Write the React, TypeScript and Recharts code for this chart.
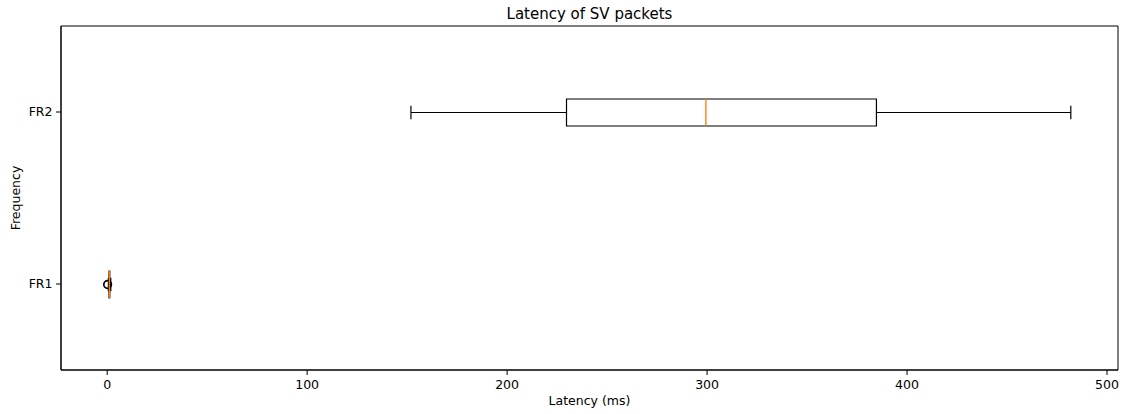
import React from "react";
import { ComposedChart, Bar, XAxis, YAxis, ReferenceArea } from "recharts";

// box statistics per group (ms), FR2 drawn on top
const categories = ["FR2", "FR1"];
const whiskerLow = [151.9, 0.6];
const q1 = [229.7, 0.9];
const median = [299.4, 1.1];
const q3 = [384.7, 1.3];
const whiskerHigh = [481.9, 1.8];
const fliers: number[][] = [[], [0.2]];

const xTicks = [0, 100, 200, 300, 400, 500];
const xDomain: [number, number] = [-23.1, 505.5];

const FONT = "'DejaVu Sans', sans-serif";
const BOX_COLOR = "#000000";
const MEDIAN_COLOR = "#ff7f0e";
const LW = 1.2;

const rows = categories.map((name, i) => ({
  name,
  min: whiskerLow[i],
  fliers: fliers[i],
  base: whiskerLow[i],
  lowW: q1[i] - whiskerLow[i],
  boxL: median[i] - q1[i],
  boxH: q3[i] - median[i],
  highW: whiskerHigh[i] - q3[i],
}));

// transparent segment 0 -> min, used to place the outliers
const BaseShape = (props: any) => {
  const { x, y, width, height, payload } = props;
  const ratio = width / payload.min;
  const cy = y + height / 2;
  return (
    <g>
      {payload.fliers.map((f: number, i: number) => (
        <circle
          key={i}
          cx={x + f * ratio}
          cy={cy}
          r={3.8}
          fill="none"
          stroke={BOX_COLOR}
          strokeWidth={1.7}
        />
      ))}
    </g>
  );
};

const LowWhisker = (props: any) => {
  const { x, y, width, height } = props;
  const cy = y + height / 2;
  return (
    <g stroke={BOX_COLOR} strokeWidth={LW}>
      <line x1={x} x2={x + width} y1={cy} y2={cy} />
      <line x1={x} x2={x} y1={cy - height / 4} y2={cy + height / 4} />
    </g>
  );
};

const HighWhisker = (props: any) => {
  const { x, y, width, height } = props;
  const cy = y + height / 2;
  return (
    <g stroke={BOX_COLOR} strokeWidth={LW}>
      <line x1={x} x2={x + width} y1={cy} y2={cy} />
      <line x1={x + width} x2={x + width} y1={cy - height / 4} y2={cy + height / 4} />
    </g>
  );
};

const BoxLow = (props: any) => {
  const { x, y, width, height } = props;
  return (
    <g stroke={BOX_COLOR} strokeWidth={LW} fill="none">
      <path d={`M${x + width},${y}H${x}V${y + height}H${x + width}`} />
    </g>
  );
};

const BoxHigh = (props: any) => {
  const { x, y, width, height } = props;
  return (
    <g fill="none">
      <path
        d={`M${x},${y}H${x + width}V${y + height}H${x}`}
        stroke={BOX_COLOR}
        strokeWidth={LW}
      />
      <line x1={x} x2={x} y1={y} y2={y + height} stroke={MEDIAN_COLOR} strokeWidth={1.4} />
    </g>
  );
};

export default function App() {
  return (
    <div style={{ position: "absolute", left: 0, top: 0, background: "#fff" }}>
      <ComposedChart
        width={1124}
        height={414}
        data={rows}
        layout="vertical"
        margin={{ top: 26, right: 6, bottom: 0, left: 0 }}
        style={{ fontFamily: FONT }}
      >
        <XAxis
          type="number"
          domain={xDomain}
          ticks={xTicks}
          height={44}
          tickSize={5}
          tickMargin={5}
          stroke="#000"
          tick={{ fill: "#000", fontSize: 12.5, fontFamily: FONT }}
        />
        <YAxis
          type="category"
          dataKey="name"
          width={61}
          tickSize={5}
          tickMargin={3.5}
          stroke="#000"
          tick={{ fill: "#000", fontSize: 12.5, fontFamily: FONT }}
        />
        {/* axes frame */}
        <ReferenceArea
          x1={xDomain[0]}
          x2={xDomain[1]}
          fill="none"
          stroke="#000"
          strokeWidth={1}
          ifOverflow="visible"
        />
        <Bar dataKey="base" stackId="box" barSize={27} shape={BaseShape} isAnimationActive={false} />
        <Bar dataKey="lowW" stackId="box" barSize={27} shape={LowWhisker} isAnimationActive={false} />
        <Bar dataKey="boxL" stackId="box" barSize={27} shape={BoxLow} isAnimationActive={false} />
        <Bar dataKey="boxH" stackId="box" barSize={27} shape={BoxHigh} isAnimationActive={false} />
        <Bar dataKey="highW" stackId="box" barSize={27} shape={HighWhisker} isAnimationActive={false} />
        <text x={589.5} y={19} textAnchor="middle" fontSize={15} fontFamily={FONT} fill="#000">
          Latency of SV packets
        </text>
        <text x={589.5} y={405} textAnchor="middle" fontSize={12.5} fontFamily={FONT} fill="#000">
          Latency (ms)
        </text>
        <text
          x={20}
          y={198}
          transform="rotate(-90 20 198)"
          textAnchor="middle"
          fontSize={12.5}
          fontFamily={FONT}
          fill="#000"
        >
          Frequency
        </text>
      </ComposedChart>
    </div>
  );
}
